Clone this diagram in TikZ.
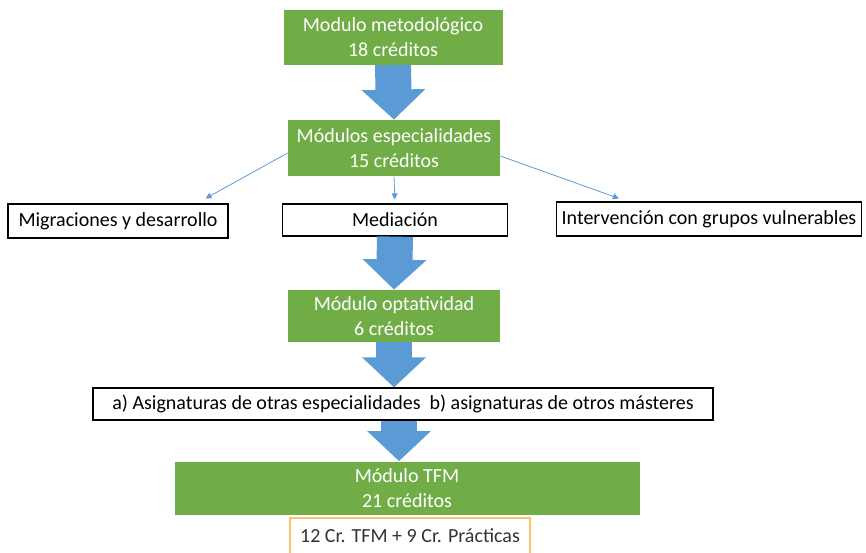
\documentclass[tikz,border=0pt]{standalone}
\usepackage{fontspec}
\setmainfont{Carlito}
\usetikzlibrary{arrows.meta}
\definecolor{modgreen}{HTML}{70AD47}
\definecolor{flowblue}{HTML}{5B9BD5}
\definecolor{notegold}{HTML}{F2C46D}

\begin{document}
\begin{tikzpicture}[x=0.5pt, y=-0.5pt,
    greenbox/.style={fill=modgreen, text=white, align=center, inner sep=0pt,
      font=\fontsize{10}{12.5}\selectfont},
    whitebox/.style={draw=black, fill=white, line width=0.6pt, inner sep=0pt,
      font=\fontsize{10}{12.5}\selectfont},
    bigarrow/.style={flowblue, line width=18pt, -{Triangle[length=15pt,width=31pt]}},
    thinarrow/.style={flowblue, line width=0.4pt, -{Triangle[length=3pt,width=3pt]}}]
    \useasboundingbox (0,0) rectangle (866,552);
    % modulos
    \node[greenbox, minimum width=109.5pt, minimum height=27.5pt] (metod) at (393,37) {Modulo metodológico\\18 créditos};
    \node[greenbox, minimum width=106pt, minimum height=28pt] (espec) at (394,148) {Módulos especialidades\\15 créditos};
    \node[whitebox, minimum width=110pt, minimum height=17pt] (migra) at (118,221) {Migraciones y desarrollo};
    \node[whitebox, minimum width=112.5pt, minimum height=16pt] (media) at (395,220) {Mediación};
    \node[whitebox, minimum width=152.5pt, minimum height=17pt] (interv) at (709,219) {Intervención con grupos vulnerables};
    \node[greenbox, minimum width=106pt, minimum height=26pt] (optat) at (394,316) {Módulo optatividad\\6 créditos};
    \node[whitebox, minimum width=310pt, minimum height=16pt] (asign) at (403,404) {a) Asignaturas de otras especialidades\ \ b) asignaturas de otros másteres};
    \node[greenbox, minimum width=232.5pt, minimum height=26.5pt] (tfm) at (407,488) {Módulo TFM\\21 créditos};
    \node[whitebox, draw=notegold, text=black!80, minimum width=120pt, minimum height=18pt] (pract) at (410,536) {12 Cr. TFM + 9 Cr. Prácticas};
    % flechas
    \draw[bigarrow] (metod.south) -- (espec.north);
    \draw[thinarrow] ([yshift=-2.5pt]espec.west) -- ([xshift=-11.5pt, yshift=2.5pt]migra.north east);
    \draw[thinarrow, shorten >=2pt] (espec.south) -- (media.north);
    \draw[thinarrow] ([yshift=-4pt]espec.east) -- ([xshift=31.5pt, yshift=1.5pt]interv.north west);
    \draw[bigarrow] (media.south) -- (optat.north);
    \draw[bigarrow] (optat.south) -- (asign.north -| optat.south);
    \draw[bigarrow] ([xshift=-2pt]asign.south) -- ([xshift=-2pt]asign.south |- tfm.north);
\end{tikzpicture}
\end{document}
